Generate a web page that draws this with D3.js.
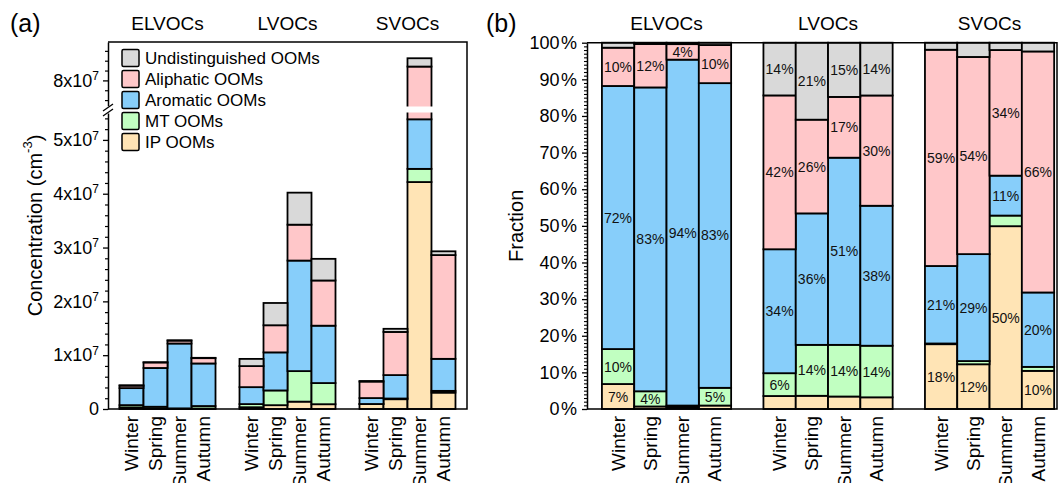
<!DOCTYPE html>
<html>
<head>
<meta charset="utf-8">
<script src="https://cdn.jsdelivr.net/npm/d3@7"></script>
<style>
  body { margin: 0; background: #fff; }
  svg { display: block; font-family: Arial, "Liberation Sans", sans-serif; }
</style>
</head>
<body>
<svg id="chart" width="1059" height="483"></svg>
<script>
const categories = ['ELVOCs', 'LVOCs', 'SVOCs']
const seasons = ['Winter', 'Spring', 'Summer', 'Autumn']
const oomTypes = ['IP OOMs', 'MT OOMs', 'Aromatic OOMs', 'Aliphatic OOMs', 'Undistinguished OOMs']
const oomColors = ['#ffe4b5', '#c1ffc1', '#87cefa', '#ffc7c9', '#d9d9d9']

// concentration in 1e7 cm^-3 : one row per OOM type (order of oomTypes), one column per season
const elvocsConc = [
    [0.030, 0.006, 0.006, 0.009],
    [0.042, 0.036, 0.006, 0.046],
    [0.316, 0.720, 1.205, 0.791],
    [0.046, 0.103, 0.054, 0.099],
    [0.006, 0.003, 0.005, 0.006]
]
const lvocsConc = [
    [0.033, 0.071, 0.137, 0.089],
    [0.058, 0.274, 0.567, 0.393],
    [0.315, 0.707, 2.054, 1.066],
    [0.391, 0.504, 0.667, 0.840],
    [0.134, 0.414, 0.595, 0.402]
]
const svocsConc = [
    [0.092, 0.182, 4.217, 0.305],
    [0.001, 0.013, 0.245, 0.032],
    [0.110, 0.435, 0.921, 0.595],
    [0.307, 0.802, 2.898, 1.928],
    [0.010, 0.058, 0.169, 0.070]
]

const lowerTicks = [0, 1, 2, 3, 4, 5]
const upperTicks = [8]
const fractionTicks = [0, 10, 20, 30, 40, 50, 60, 70, 80, 90, 100]

// build rows for d3.stack
const concByCat = { ELVOCs: elvocsConc, LVOCs: lvocsConc, SVOCs: svocsConc }
const rows = []
categories.forEach(cat => {
    seasons.forEach((s, j) => {
        const r = { category: cat, season: s }
        oomTypes.forEach((t, i) => { r[t] = concByCat[cat][i][j] })
        r.total = d3.sum(oomTypes, t => r[t])
        rows.push(r)
    })
})
const fracRows = rows.map(r => {
    const f = { category: r.category, season: r.season }
    oomTypes.forEach(t => { f[t] = r[t] / r.total * 100 })
    return f
})

const stack = d3.stack().keys(oomTypes)
const color = d3.scaleOrdinal().domain(oomTypes).range(oomColors)

const svg = d3.select('#chart')
svg.append('rect').attr('width', 1059).attr('height', 483).attr('fill', '#fff')

// ---------------- panel (a) ----------------
const aLeft = 108, aRight = 467, aTop = 42, bottom = 409

const xGroupA = d3.scaleBand().domain(categories).range([aLeft, aRight])
    .paddingInner(0.2).paddingOuter(0.096)
const xSeasonA = d3.scaleBand().domain(seasons).range([0, xGroupA.bandwidth()])

const yLow = d3.scaleLinear().domain([0, 5.5]).range([bottom, 113])
const yHigh = d3.scaleLinear().domain([7.48, 8.78]).range([106, aTop])
const yA = v => v <= 5.5 ? yLow(v) : yHigh(Math.max(v, 7.48))

const panelA = svg.append('g')

const layersA = panelA.selectAll('g.layer')
    .data(stack(rows))
    .join('g')
    .attr('class', 'layer')
    .attr('fill', d => color(d.key))

layersA.selectAll('rect')
    .data(d => d)
    .join('rect')
    .attr('x', d => xGroupA(d.data.category) + xSeasonA(d.data.season))
    .attr('width', xSeasonA.bandwidth())
    .attr('y', d => yA(d[1]))
    .attr('height', d => Math.max(0, yA(d[0]) - yA(d[1])))
    .attr('stroke', '#000')
    .attr('stroke-width', 1.8)

// axis break gap
panelA.append('rect')
    .attr('x', aLeft + 1).attr('width', aRight - aLeft - 2)
    .attr('y', 106.5).attr('height', 6)
    .attr('fill', '#fff')

// frame
panelA.append('path')
    .attr('d', `M${aLeft},${aTop}H${aRight}V${bottom}H${aLeft}`)
    .attr('fill', 'none').attr('stroke', '#000').attr('stroke-width', 1.5)

const supFormat = (sel) => {
    sel.selectAll('.tick text').each(function (d) {
        const t = d3.select(this)
        t.text(null)
        if (d === 0) { t.text('0'); return }
        t.append('tspan').text(d + 'x10')
        t.append('tspan').attr('dy', '-0.55em').attr('font-size', 12).text('7')
    })
}

const styleAxis = (g, size) => {
    g.attr('font-family', null).attr('font-size', size)
    g.selectAll('path.domain').attr('stroke-width', 1.5)
    g.selectAll('.tick line').attr('stroke-width', 1.3)
    g.selectAll('.tick text').attr('fill', '#000')
}

const lowAxis = panelA.append('g').attr('transform', `translate(${aLeft},0)`)
    .call(d3.axisLeft(yLow).tickValues(lowerTicks).tickSize(5).tickSizeOuter(0).tickPadding(4))
styleAxis(lowAxis, 18)
lowAxis.call(supFormat)
panelA.append('g').attr('transform', `translate(${aLeft},0)`)
    .call(d3.axisLeft(yLow).tickValues(d3.range(0.2, 5.5, 0.2).filter(v => Math.abs(v - Math.round(v)) > 0.01))
        .tickSize(3).tickSizeOuter(0).tickFormat(''))
    .call(g => g.select('.domain').remove())
    .selectAll('line').attr('stroke-width', 1.2)

const highAxis = panelA.append('g').attr('transform', `translate(${aLeft},0)`)
    .call(d3.axisLeft(yHigh).tickValues(upperTicks).tickSize(5).tickSizeOuter(0).tickPadding(4))
styleAxis(highAxis, 18)
highAxis.call(supFormat)
panelA.append('g').attr('transform', `translate(${aLeft},0)`)
    .call(d3.axisLeft(yHigh).tickValues([7.6, 7.8, 8.2, 8.4, 8.6]).tickSize(3).tickSizeOuter(0).tickFormat(''))
    .call(g => g.select('.domain').remove())
    .selectAll('line').attr('stroke-width', 1.2)

// break marks
panelA.append('rect').attr('x', aLeft - 4).attr('y', 106.5).attr('width', 8).attr('height', 6).attr('fill', '#fff')
;[0, 5].forEach(off => {
    panelA.append('line')
        .attr('x1', aLeft - 5).attr('y1', 111 + off)
        .attr('x2', aLeft + 5).attr('y2', 104 + off)
        .attr('stroke', '#000').attr('stroke-width', 1.3)
})

// x labels (a)
rows.forEach(r => {
    const cx = xGroupA(r.category) + xSeasonA(r.season) + xSeasonA.bandwidth() / 2
    panelA.append('text')
        .attr('transform', `translate(${cx},416) rotate(-90)`)
        .attr('text-anchor', 'end').attr('dominant-baseline', 'central')
        .attr('font-size', 19).text(r.season)
})

// titles (a)
categories.forEach(c => {
    panelA.append('text')
        .attr('x', xGroupA(c) + xGroupA.bandwidth() / 2).attr('y', 30)
        .attr('text-anchor', 'middle').attr('font-size', 19).text(c)
})

panelA.append('text').attr('x', 10).attr('y', 32).attr('font-size', 25).text('(a)')

const yTitleA = panelA.append('text')
    .attr('transform', `translate(35,${(aTop + bottom) / 2}) rotate(-90)`)
    .attr('text-anchor', 'middle').attr('dominant-baseline', 'central')
    .attr('font-size', 20)
yTitleA.append('tspan').text('Concentration (cm')
yTitleA.append('tspan').attr('dy', -8).attr('font-size', 13).text('-3')
yTitleA.append('tspan').attr('dy', 8).text(')')

// legend
const legend = panelA.append('g')
oomTypes.slice().reverse().forEach((t, i) => {
    const cy = 58 + i * 21
    legend.append('rect')
        .attr('x', 122).attr('y', cy - 8.5).attr('width', 17).attr('height', 17).attr('rx', 1.5)
        .attr('fill', color(t)).attr('stroke', '#000').attr('stroke-width', 1.5)
    legend.append('text')
        .attr('x', 145).attr('y', cy).attr('dominant-baseline', 'central')
        .attr('font-size', 17).text(t)
})

// ---------------- panel (b) ----------------
const bLeft = 587, bRight = 1057, bTop = 42.7

const xGroupB = d3.scaleBand().domain(categories).range([bLeft, bRight])
    .paddingInner(0.2).paddingOuter(0.055).align(0.84)
const xSeasonB = d3.scaleBand().domain(seasons).range([0, xGroupB.bandwidth()])
const yB = d3.scaleLinear().domain([0, 100]).range([bottom, bTop])

const panelB = svg.append('g')

const layersB = panelB.selectAll('g.layer')
    .data(stack(fracRows))
    .join('g')
    .attr('class', 'layer')
    .attr('fill', d => color(d.key))

layersB.selectAll('rect')
    .data(d => d)
    .join('rect')
    .attr('x', d => xGroupB(d.data.category) + xSeasonB(d.data.season))
    .attr('width', xSeasonB.bandwidth())
    .attr('y', d => yB(d[1]))
    .attr('height', d => yB(d[0]) - yB(d[1]))
    .attr('stroke', '#000')
    .attr('stroke-width', 1.8)

layersB.selectAll('text')
    .data(d => d.filter(p => p[1] - p[0] >= 4))
    .join('text')
    .attr('x', d => xGroupB(d.data.category) + xSeasonB(d.data.season) + xSeasonB.bandwidth() / 2)
    .attr('y', d => yB((d[0] + d[1]) / 2))
    .attr('text-anchor', 'middle').attr('dominant-baseline', 'central')
    .attr('fill', '#111').attr('font-size', 14)
    .text(d => Math.round(d[1] - d[0]) + '%')

panelB.append('path')
    .attr('d', `M${bLeft},${bTop}H${bRight}V${bottom}H${bLeft}`)
    .attr('fill', 'none').attr('stroke', '#000').attr('stroke-width', 1.5)

const fracAxis = panelB.append('g').attr('transform', `translate(${bLeft},0)`)
    .call(d3.axisLeft(yB).tickValues(fractionTicks).tickSize(5).tickSizeOuter(0).tickPadding(5)
        .tickFormat(d => d + '\u200a%'))
styleAxis(fracAxis, 18)
panelB.append('g').attr('transform', `translate(${bLeft},0)`)
    .call(d3.axisLeft(yB).tickValues(d3.range(1, 100).filter(v => v % 10 !== 0))
        .tickSize(3).tickSizeOuter(0).tickFormat(''))
    .call(g => g.select('.domain').remove())
    .selectAll('line').attr('stroke-width', 1.1)

fracRows.forEach(r => {
    const cx = xGroupB(r.category) + xSeasonB(r.season) + xSeasonB.bandwidth() / 2
    panelB.append('text')
        .attr('transform', `translate(${cx},416) rotate(-90)`)
        .attr('text-anchor', 'end').attr('dominant-baseline', 'central')
        .attr('font-size', 19).text(r.season)
})

categories.forEach(c => {
    panelB.append('text')
        .attr('x', xGroupB(c) + xGroupB.bandwidth() / 2).attr('y', 30)
        .attr('text-anchor', 'middle').attr('font-size', 19).text(c)
})

panelB.append('text').attr('x', 486).attr('y', 32).attr('font-size', 25).text('(b)')

panelB.append('text')
    .attr('transform', `translate(516,${(bTop + bottom) / 2}) rotate(-90)`)
    .attr('text-anchor', 'middle').attr('dominant-baseline', 'central')
    .attr('font-size', 20).text('Fraction')
</script>
</body>
</html>
